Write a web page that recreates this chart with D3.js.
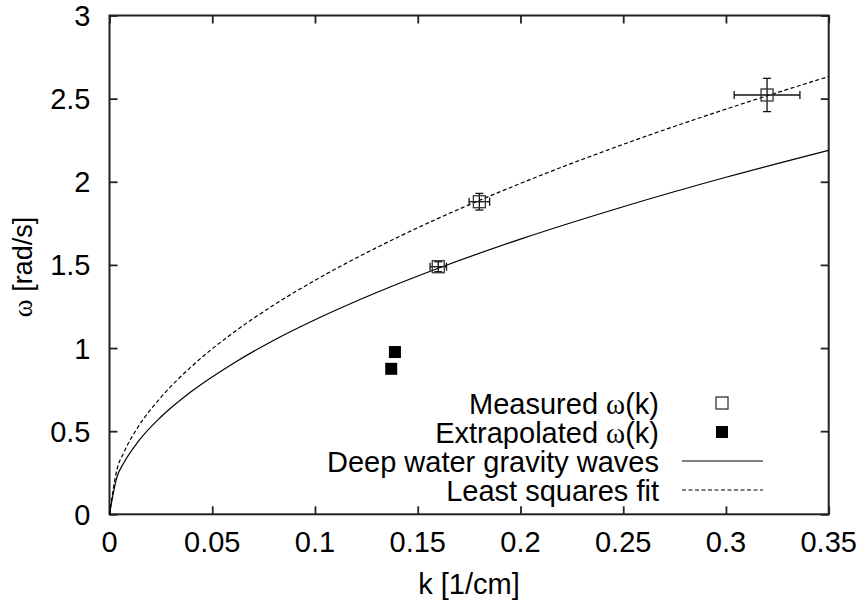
<!DOCTYPE html>
<html>
<head>
<meta charset="utf-8">
<script src="https://cdn.jsdelivr.net/npm/d3@7"></script>
<style>
  html, body { margin: 0; padding: 0; background: #fff; }
  svg { display: block; font-family: "Liberation Sans", Arial, sans-serif; }
  .omega { font-family: "Liberation Serif", "DejaVu Serif", serif; }
</style>
</head>
<body>
<svg id="chart" width="868" height="608"></svg>
<script>
// ---------------------------------------------------------------------------
// Data
// ---------------------------------------------------------------------------
const xTicks = [0, 0.05, 0.1, 0.15, 0.2, 0.25, 0.3, 0.35];
const xTickLabels = ['0', '0.05', '0.1', '0.15', '0.2', '0.25', '0.3', '0.35'];
const yTicks = [0, 0.5, 1, 1.5, 2, 2.5, 3];
const yTickLabels = ['0', '0.5', '1', '1.5', '2', '2.5', '3'];

// measured omega(k) with error bars
const measK    = [0.160, 0.180, 0.320];
const measW    = [1.489, 1.880, 2.522];
const measKErr = [0.004, 0.005, 0.016];
const measWErr = [0.030, 0.050, 0.100];

// extrapolated omega(k)
const extK = [0.1389, 0.1371];
const extW = [0.976, 0.875];

// curves
const curveK   = [0, 0.0035, 0.007, 0.014, 0.025, 0.04, 0.06, 0.08, 0.1, 0.13, 0.16, 0.2, 0.25, 0.3, 0.35];
const deepW    = [0, 0.219, 0.310, 0.438, 0.585, 0.740, 0.906, 1.047, 1.170, 1.334, 1.480, 1.655, 1.850, 2.027, 2.189];
const fitW     = [0, 0.263, 0.372, 0.527, 0.703, 0.890, 1.090, 1.259, 1.407, 1.604, 1.780, 1.990, 2.225, 2.437, 2.633];

// ---------------------------------------------------------------------------
// Layout
// ---------------------------------------------------------------------------
const PLOT = { left: 109.5, right: 828.7, top: 15.5, bottom: 514.3 };
const TICK = 8;
const FONT = 29;
const INK = '#000';
const AXIS = '#222';

const svg = d3.select('#chart');

const x = d3.scaleLinear().domain([0, 0.35]).range([PLOT.left, PLOT.right]);
const y = d3.scaleLinear().domain([0, 3]).range([PLOT.bottom, PLOT.top]);

// Axes (gnuplot style: border box, inward ticks on all four sides)
const axisG = svg.append('g');

axisG.append('g')
  .attr('transform', `translate(0,${PLOT.bottom})`)
  .call(d3.axisBottom(x).tickValues(xTicks).tickSizeInner(-TICK).tickSizeOuter(0).tickFormat(''));
axisG.append('g')
  .attr('transform', `translate(0,${PLOT.top})`)
  .call(d3.axisTop(x).tickValues(xTicks).tickSizeInner(-TICK).tickSizeOuter(0).tickFormat(''));
axisG.append('g')
  .attr('transform', `translate(${PLOT.left},0)`)
  .call(d3.axisLeft(y).tickValues(yTicks).tickSizeInner(-TICK).tickSizeOuter(0).tickFormat(''));
axisG.append('g')
  .attr('transform', `translate(${PLOT.right},0)`)
  .call(d3.axisRight(y).tickValues(yTicks).tickSizeInner(-TICK).tickSizeOuter(0).tickFormat(''));

axisG.selectAll('.domain').remove();
axisG.selectAll('.tick line').attr('stroke', AXIS).attr('stroke-width', 1.8);

svg.append('rect')
  .attr('x', PLOT.left).attr('y', PLOT.top)
  .attr('width', PLOT.right - PLOT.left)
  .attr('height', PLOT.bottom - PLOT.top)
  .attr('fill', 'none')
  .attr('stroke', AXIS)
  .attr('stroke-width', 2);

// Tick labels
svg.append('g').selectAll('text')
  .data(xTicks)
  .join('text')
  .attr('x', d => x(d))
  .attr('y', PLOT.bottom + 38)
  .attr('text-anchor', 'middle')
  .attr('font-size', FONT)
  .attr('fill', INK)
  .text((d, i) => xTickLabels[i]);

svg.append('g').selectAll('text')
  .data(yTicks)
  .join('text')
  .attr('x', PLOT.left - 19)
  .attr('y', d => y(d) + 10.5)
  .attr('text-anchor', 'end')
  .attr('font-size', FONT)
  .attr('fill', INK)
  .text((d, i) => yTickLabels[i]);

// Axis titles
svg.append('text')
  .attr('x', 469)
  .attr('y', 594)
  .attr('text-anchor', 'middle')
  .attr('font-size', FONT)
  .attr('fill', INK)
  .text('k [1/cm]');

const yTitle = svg.append('text')
  .attr('transform', 'translate(32,267) rotate(-90)')
  .attr('text-anchor', 'middle')
  .attr('font-size', 27)
  .attr('fill', INK);
yTitle.append('tspan').attr('class', 'omega').text('ω');
yTitle.append('tspan').text(' [rad/s]');

// ---------------------------------------------------------------------------
// Curves
// ---------------------------------------------------------------------------
const plot = svg.append('g');

const line = d3.line()
  .x(d => x(d[0]))
  .y(d => y(d[1]))
  .curve(d3.curveMonotoneX);

plot.append('path')
  .datum(curveK.map((k, i) => [k, deepW[i]]))
  .attr('d', line)
  .attr('fill', 'none')
  .attr('stroke', INK)
  .attr('stroke-width', 1.2);

plot.append('path')
  .datum(curveK.map((k, i) => [k, fitW[i]]))
  .attr('d', line)
  .attr('fill', 'none')
  .attr('stroke', INK)
  .attr('stroke-width', 1.2)
  .attr('stroke-dasharray', '4,2.5');

// ---------------------------------------------------------------------------
// Points
// ---------------------------------------------------------------------------
const SQ = 12;   // marker size
const CAP = 4;   // half error-bar cap

const meas = measK.map((k, i) => ({ k, w: measW[i], dk: measKErr[i], dw: measWErr[i] }));

const mg = plot.append('g')
  .attr('stroke', '#111')
  .attr('stroke-width', 1.3)
  .attr('fill', 'none');

meas.forEach(d => {
  const cx = x(d.k), cy = y(d.w);
  const x0 = x(d.k - d.dk), x1 = x(d.k + d.dk);
  const y0 = y(d.w - d.dw), y1 = y(d.w + d.dw);
  mg.append('line').attr('x1', x0).attr('x2', x1).attr('y1', cy).attr('y2', cy);
  mg.append('line').attr('x1', x0).attr('x2', x0).attr('y1', cy - CAP).attr('y2', cy + CAP);
  mg.append('line').attr('x1', x1).attr('x2', x1).attr('y1', cy - CAP).attr('y2', cy + CAP);
  mg.append('line').attr('x1', cx).attr('x2', cx).attr('y1', y0).attr('y2', y1);
  mg.append('line').attr('x1', cx - CAP).attr('x2', cx + CAP).attr('y1', y0).attr('y2', y0);
  mg.append('line').attr('x1', cx - CAP).attr('x2', cx + CAP).attr('y1', y1).attr('y2', y1);
  mg.append('rect')
    .attr('x', cx - SQ / 2).attr('y', cy - SQ / 2)
    .attr('width', SQ).attr('height', SQ)
    .attr('stroke', '#333');
});

plot.append('g').selectAll('rect')
  .data(extK.map((k, i) => ({ k, w: extW[i] })))
  .join('rect')
  .attr('x', d => x(d.k) - SQ / 2)
  .attr('y', d => y(d.w) - SQ / 2)
  .attr('width', SQ)
  .attr('height', SQ)
  .attr('fill', INK);

// ---------------------------------------------------------------------------
// Legend
// ---------------------------------------------------------------------------
const LEG = { textRight: 659, symX: 722, lineX0: 682, lineX1: 763, y0: 403, dy: 29 };
const legendItems = [
  { label: 'Measured ', omega: true, kind: 'open' },
  { label: 'Extrapolated ', omega: true, kind: 'filled' },
  { label: 'Deep water gravity waves', omega: false, kind: 'solid' },
  { label: 'Least squares fit', omega: false, kind: 'dashed' },
];

const leg = svg.append('g');
legendItems.forEach((it, i) => {
  const cy = LEG.y0 + i * LEG.dy;
  const t = leg.append('text')
    .attr('x', LEG.textRight)
    .attr('y', cy + 10.5)
    .attr('text-anchor', 'end')
    .attr('font-size', FONT)
    .attr('fill', INK);
  t.append('tspan').text(it.label);
  if (it.omega) {
    t.append('tspan').attr('class', 'omega').text('ω');
    t.append('tspan').text('(k)');
  }

  if (it.kind === 'open') {
    leg.append('rect')
      .attr('x', LEG.symX - SQ / 2).attr('y', cy - SQ / 2)
      .attr('width', SQ).attr('height', SQ)
      .attr('fill', 'none').attr('stroke', '#333').attr('stroke-width', 1.3);
  } else if (it.kind === 'filled') {
    leg.append('rect')
      .attr('x', LEG.symX - SQ / 2).attr('y', cy - SQ / 2)
      .attr('width', SQ).attr('height', SQ)
      .attr('fill', INK);
  } else {
    leg.append('line')
      .attr('x1', LEG.lineX0).attr('x2', LEG.lineX1)
      .attr('y1', cy).attr('y2', cy)
      .attr('stroke', INK).attr('stroke-width', 1.2)
      .attr('stroke-dasharray', it.kind === 'dashed' ? '4,2.5' : null);
  }
});
</script>
</body>
</html>
